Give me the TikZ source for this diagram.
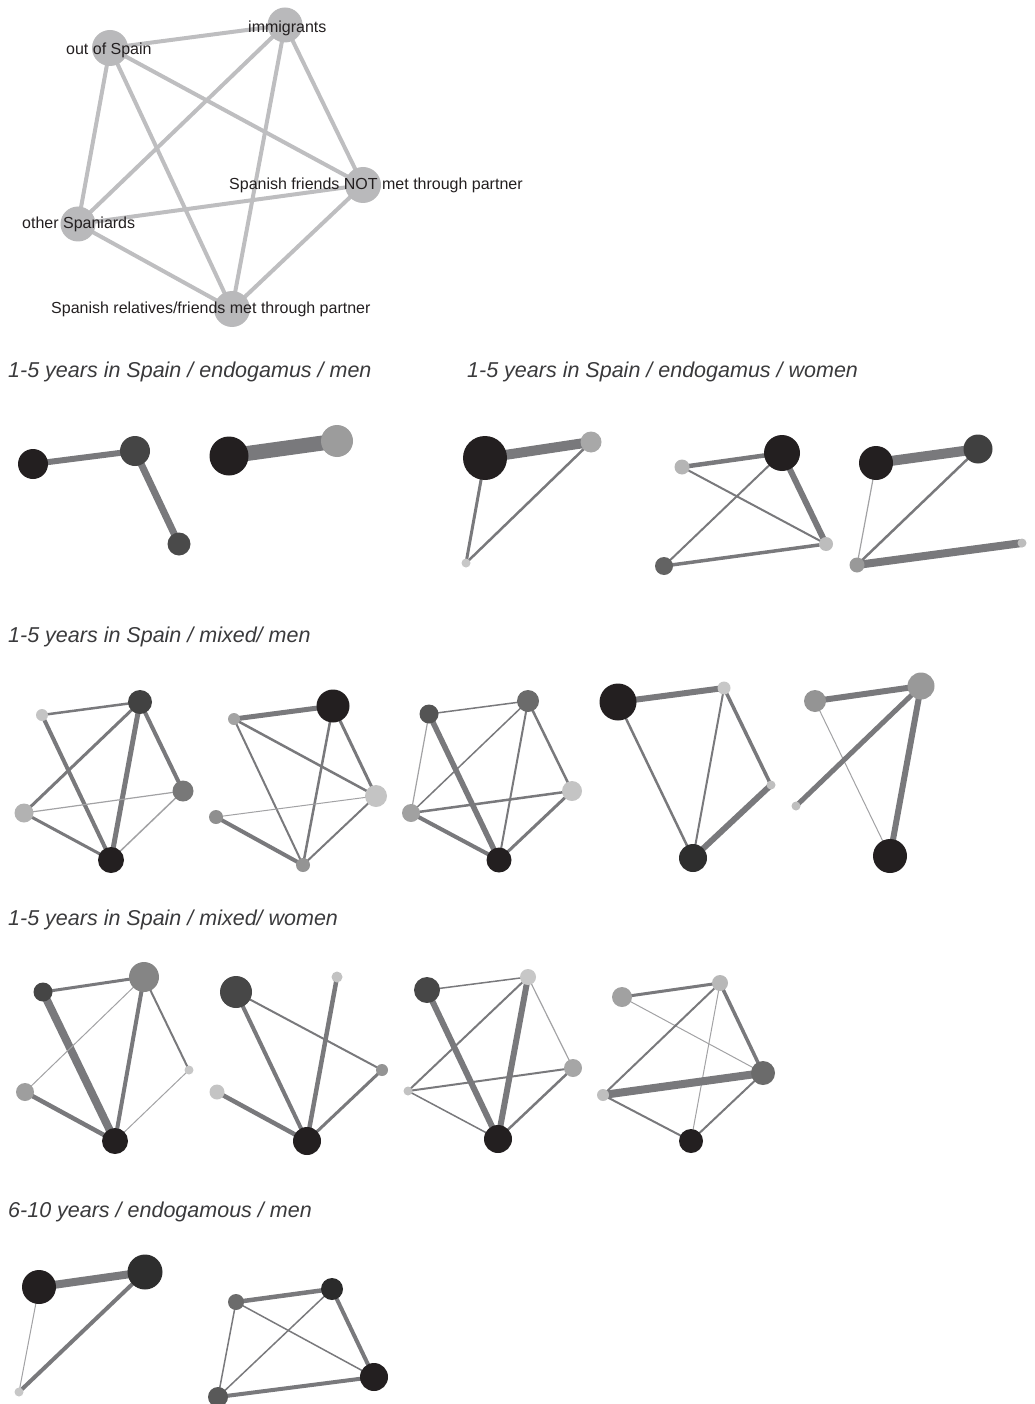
\documentclass[tikz,border=0pt]{standalone}
\usepackage{fontspec}
\setmainfont{Liberation Sans}
\usetikzlibrary{backgrounds}
\definecolor{nblack}{HTML}{231F20}
\definecolor{legnode}{HTML}{B9B9BB}
\definecolor{legline}{HTML}{BEBEC0}
\definecolor{linkgray}{HTML}{79797C}
\definecolor{linklight}{HTML}{A2A2A4}
\definecolor{headgray}{HTML}{3A3A3C}
\tikzset{vtx/.style={circle,inner sep=0pt,outer sep=0pt,fill=#1}}
\tikzset{link/.style={draw=linkgray,line width=#1pt}}
\tikzset{tlink/.style={draw=linklight,line width=#1pt}}
\tikzset{lbl/.style={anchor=base west,inner sep=0pt,text=nblack,font=\fontsize{16}{19}\selectfont}}
\tikzset{hd/.style={anchor=base west,inner sep=0pt,text=headgray,font=\fontsize{21.5}{25}\selectfont\itshape}}

\begin{document}
\begin{tikzpicture}[x=1pt,y=-1pt]
  \useasboundingbox (0,0) rectangle (1034,1404);
  % legend
  \node[vtx=legnode,minimum size=36pt] (out) at (110,48) {};
  \node[vtx=legnode,minimum size=35pt] (imm) at (285,25) {};
  \node[vtx=legnode,minimum size=36pt] (notp) at (363,185) {};
  \node[vtx=legnode,minimum size=35pt] (oth) at (78,224) {};
  \node[vtx=legnode,minimum size=36pt] (rel) at (232,309) {};
  \node[lbl] (t-out) at (66,55) {out of Spain};
  \node[lbl] (t-imm) at (248,33) {immigrants};
  \node[lbl] (t-notp) at (229,190) {Spanish friends NOT met through partner};
  \node[lbl] (t-oth) at (22,229) {other Spaniards};
  \node[lbl] (t-rel) at (51,313) {Spanish relatives/friends met through partner};
  \begin{scope}[on background layer]
    \foreach \a/\b in {out/imm,out/notp,out/oth,out/rel,imm/notp,imm/oth,imm/rel,notp/oth,notp/rel,oth/rel}
      \draw[draw=legline,line width=4pt] (\a.center) -- (\b.center);
  \end{scope}

  % headings
  \node[hd] (h1) at (8,377) {1-5 years in Spain / endogamus / men};
  \node[hd] (h2) at (467,377) {1-5 years in Spain / endogamus / women};
  \node[hd] (h3) at (8,642) {1-5 years in Spain / mixed/ men};
  \node[hd] (h4) at (8,925) {1-5 years in Spain / mixed/ women};
  \node[hd] (h5) at (8,1217) {6-10 years / endogamous / men};

  % endogamus / men
  \node[vtx=nblack,minimum size=30pt] (a1) at (33,464) {};
  \node[vtx=black!73,minimum size=30pt] (a2) at (135,451) {};
  \node[vtx=black!71,minimum size=23pt] (a3) at (179,544) {};
  \node[vtx=nblack,minimum size=39pt] (b1) at (229,456) {};
  \node[vtx=black!39,minimum size=32pt] (b2) at (337,441) {};

  % endogamus / women
  \node[vtx=nblack,minimum size=44pt] (c1) at (485,458) {};
  \node[vtx=black!34,minimum size=21pt] (c2) at (591,442) {};
  \node[vtx=black!22,minimum size=9pt] (c3) at (466,563) {};
  \node[vtx=black!29,minimum size=15pt] (d1) at (682,467) {};
  \node[vtx=nblack,minimum size=36pt] (d2) at (782,453) {};
  \node[vtx=black!26,minimum size=14pt] (d3) at (826,544) {};
  \node[vtx=black!61,minimum size=18pt] (d4) at (664,566) {};
  \node[vtx=nblack,minimum size=34pt] (e1) at (876,463) {};
  \node[vtx=black!75,minimum size=29pt] (e2) at (978,449) {};
  \node[vtx=black!40,minimum size=15pt] (e3) at (857,565) {};
  \node[vtx=black!26,minimum size=9pt] (e4) at (1022,543) {};

  % mixed / men
  \node[vtx=black!23,minimum size=12pt] (f1) at (42,715) {};
  \node[vtx=black!74,minimum size=24pt] (f2) at (140,702) {};
  \node[vtx=black!53,minimum size=21pt] (f3) at (183,791) {};
  \node[vtx=black!30,minimum size=19pt] (f4) at (24,813) {};
  \node[vtx=nblack,minimum size=26pt] (f5) at (111,860) {};
  \node[vtx=black!36,minimum size=12pt] (g1) at (234,719) {};
  \node[vtx=nblack,minimum size=33pt] (g2) at (333,706) {};
  \node[vtx=black!23,minimum size=22pt] (g3) at (376,796) {};
  \node[vtx=black!44,minimum size=14pt] (g4) at (216,817) {};
  \node[vtx=black!42,minimum size=14pt] (g5) at (303,865) {};
  \node[vtx=black!67,minimum size=19pt] (h1n) at (429,714) {};
  \node[vtx=black!58,minimum size=22pt] (h2n) at (528,701) {};
  \node[vtx=black!23,minimum size=20pt] (h3n) at (572,791) {};
  \node[vtx=black!37,minimum size=18pt] (h4n) at (411,813) {};
  \node[vtx=nblack,minimum size=25pt] (h5n) at (499,860) {};
  \node[vtx=nblack,minimum size=37pt] (i1) at (618,702) {};
  \node[vtx=black!22,minimum size=13pt] (i2) at (724,688) {};
  \node[vtx=black!25,minimum size=9pt] (i3) at (771,785) {};
  \node[vtx=black!82,minimum size=28pt] (i4) at (693,858) {};
  \node[vtx=black!42,minimum size=22pt] (j1) at (815,701) {};
  \node[vtx=black!40,minimum size=27pt] (j2) at (921,686) {};
  \node[vtx=black!25,minimum size=9pt] (j3) at (796,806) {};
  \node[vtx=nblack,minimum size=34pt] (j4) at (890,856) {};

  % mixed / women
  \node[vtx=black!73,minimum size=19pt] (k1) at (43,992) {};
  \node[vtx=black!48,minimum size=30pt] (k2) at (144,977) {};
  \node[vtx=black!22,minimum size=9pt] (k3) at (189,1070) {};
  \node[vtx=black!38,minimum size=18pt] (k4) at (25,1092) {};
  \node[vtx=nblack,minimum size=26pt] (k5) at (115,1141) {};
  \node[vtx=black!72,minimum size=32pt] (l1) at (236,992) {};
  \node[vtx=black!24,minimum size=11pt] (l2) at (337,977) {};
  \node[vtx=black!42,minimum size=12pt] (l3) at (382,1070) {};
  \node[vtx=black!23,minimum size=15pt] (l4) at (217,1092) {};
  \node[vtx=nblack,minimum size=28pt] (l5) at (307,1141) {};
  \node[vtx=black!72,minimum size=26pt] (m1) at (427,990) {};
  \node[vtx=black!22,minimum size=16pt] (m2) at (528,977) {};
  \node[vtx=black!35,minimum size=18pt] (m3) at (573,1068) {};
  \node[vtx=black!24,minimum size=9pt] (m4) at (408,1091) {};
  \node[vtx=nblack,minimum size=28pt] (m5) at (498,1139) {};
  \node[vtx=black!37,minimum size=20pt] (n1) at (622,997) {};
  \node[vtx=black!28,minimum size=16pt] (n2) at (720,983) {};
  \node[vtx=black!58,minimum size=24pt] (n3) at (763,1073) {};
  \node[vtx=black!25,minimum size=12pt] (n4) at (603,1095) {};
  \node[vtx=nblack,minimum size=24pt] (n5) at (691,1141) {};

  % 6-10 / endogamous / men
  \node[vtx=nblack,minimum size=34pt] (o1) at (39,1287) {};
  \node[vtx=black!82,minimum size=35pt] (o2) at (145,1272) {};
  \node[vtx=black!22,minimum size=9pt] (o3) at (19,1392) {};
  \node[vtx=black!58,minimum size=16pt] (p1) at (236,1302) {};
  \node[vtx=black!83,minimum size=22pt] (p2) at (332,1289) {};
  \node[vtx=nblack,minimum size=28pt] (p3) at (374,1377) {};
  \node[vtx=black!65,minimum size=20pt] (p4) at (218,1397) {};

  % connectors
  \begin{scope}[on background layer]
    \draw[link=6] (a1.center) -- (a2.center);
    \draw[link=7] (a2.center) -- (a3.center);
    \draw[link=15] (b1.center) -- (b2.center);
    \draw[link=10] (c1.center) -- (c2.center);
    \draw[link=3] (c1.center) -- (c3.center);
    \draw[link=2.5] (c2.center) -- (c3.center);
    \draw[link=4.5] (d1.center) -- (d2.center);
    \draw[link=2] (d1.center) -- (d3.center);
    \draw[link=6] (d2.center) -- (d3.center);
    \draw[link=2] (d2.center) -- (d4.center);
    \draw[link=3.5] (d4.center) -- (d3.center);
    \draw[link=10] (e1.center) -- (e2.center);
    \draw[tlink=1.2] (e1.center) -- (e3.center);
    \draw[link=2.5] (e2.center) -- (e3.center);
    \draw[link=8] (e3.center) -- (e4.center);
    \draw[link=2.5] (f1.center) -- (f2.center);
    \draw[link=4] (f1.center) -- (f5.center);
    \draw[link=3] (f2.center) -- (f4.center);
    \draw[link=5] (f2.center) -- (f5.center);
    \draw[link=4] (f2.center) -- (f3.center);
    \draw[tlink=1.2] (f4.center) -- (f3.center);
    \draw[link=3] (f4.center) -- (f5.center);
    \draw[tlink=1.5] (f3.center) -- (f5.center);
    \draw[link=5] (g1.center) -- (g2.center);
    \draw[link=2.5] (g1.center) -- (g3.center);
    \draw[link=2] (g1.center) -- (g5.center);
    \draw[link=2.5] (g2.center) -- (g5.center);
    \draw[link=3] (g2.center) -- (g3.center);
    \draw[tlink=1] (g4.center) -- (g3.center);
    \draw[link=4] (g4.center) -- (g5.center);
    \draw[link=2] (g5.center) -- (g3.center);
    \draw[link=1.5] (h1n.center) -- (h2n.center);
    \draw[tlink=1.2] (h1n.center) -- (h4n.center);
    \draw[link=5.5] (h1n.center) -- (h5n.center);
    \draw[link=1.5] (h4n.center) -- (h2n.center);
    \draw[link=2.5] (h4n.center) -- (h3n.center);
    \draw[link=4] (h4n.center) -- (h5n.center);
    \draw[link=2] (h2n.center) -- (h5n.center);
    \draw[link=2.5] (h2n.center) -- (h3n.center);
    \draw[link=3] (h5n.center) -- (h3n.center);
    \draw[link=6] (i1.center) -- (i2.center);
    \draw[link=2.5] (i1.center) -- (i4.center);
    \draw[link=2] (i2.center) -- (i4.center);
    \draw[link=3.5] (i2.center) -- (i3.center);
    \draw[link=6] (i4.center) -- (i3.center);
    \draw[link=6] (j1.center) -- (j2.center);
    \draw[tlink=1] (j1.center) -- (j4.center);
    \draw[link=5] (j2.center) -- (j3.center);
    \draw[link=6] (j2.center) -- (j4.center);
    \draw[link=3] (k1.center) -- (k2.center);
    \draw[link=8] (k1.center) -- (k5.center);
    \draw[tlink=1] (k2.center) -- (k4.center);
    \draw[link=4] (k2.center) -- (k5.center);
    \draw[link=2] (k2.center) -- (k3.center);
    \draw[link=4.5] (k4.center) -- (k5.center);
    \draw[tlink=1] (k3.center) -- (k5.center);
    \draw[link=2] (l1.center) -- (l3.center);
    \draw[link=4] (l1.center) -- (l5.center);
    \draw[link=4.5] (l2.center) -- (l5.center);
    \draw[link=4.5] (l4.center) -- (l5.center);
    \draw[link=3] (l3.center) -- (l5.center);
    \draw[link=1.5] (m1.center) -- (m2.center);
    \draw[link=6] (m1.center) -- (m5.center);
    \draw[link=2] (m2.center) -- (m4.center);
    \draw[link=6] (m2.center) -- (m5.center);
    \draw[tlink=1.2] (m2.center) -- (m3.center);
    \draw[link=2] (m4.center) -- (m3.center);
    \draw[link=1.5] (m4.center) -- (m5.center);
    \draw[link=2.5] (m3.center) -- (m5.center);
    \draw[link=3] (n1.center) -- (n2.center);
    \draw[tlink=1] (n1.center) -- (n3.center);
    \draw[link=2] (n2.center) -- (n4.center);
    \draw[tlink=1] (n2.center) -- (n5.center);
    \draw[link=3.5] (n2.center) -- (n3.center);
    \draw[link=8] (n4.center) -- (n3.center);
    \draw[link=2] (n4.center) -- (n5.center);
    \draw[link=2] (n5.center) -- (n3.center);
    \draw[link=8] (o1.center) -- (o2.center);
    \draw[tlink=1] (o1.center) -- (o3.center);
    \draw[link=4] (o2.center) -- (o3.center);
    \draw[link=4.5] (p1.center) -- (p2.center);
    \draw[link=1.5] (p1.center) -- (p3.center);
    \draw[link=1.5] (p1.center) -- (p4.center);
    \draw[link=1.5] (p2.center) -- (p4.center);
    \draw[link=4] (p2.center) -- (p3.center);
    \draw[link=4] (p4.center) -- (p3.center);
  \end{scope}
\end{tikzpicture}
\end{document}
